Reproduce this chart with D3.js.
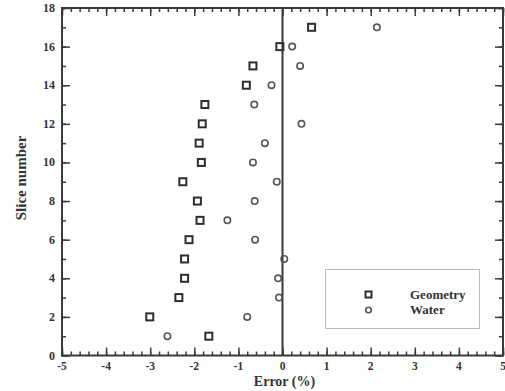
<!DOCTYPE html>
<html>
<head>
<meta charset="utf-8">
<script src="https://cdn.jsdelivr.net/npm/d3@7"></script>
<style>
  body { margin: 0; background: #fff; }
  svg text { font-family: "Liberation Serif", "DejaVu Serif", serif; font-weight: bold; fill: #333; }
</style>
</head>
<body>
<div id="chart"></div>
<script>
// slice numbers and errors (%)
var slices = [1, 2, 3, 4, 5, 6, 7, 8, 9, 10, 11, 12, 13, 14, 15, 16, 17];
var geometry = [-1.67, -3.01, -2.35, -2.22, -2.22, -2.12, -1.87, -1.93, -2.26, -1.84, -1.89, -1.82, -1.76, -0.82, -0.67, -0.06, 0.66];
var water = [-2.61, -0.80, -0.08, -0.10, 0.04, -0.62, -1.25, -0.63, -0.13, -0.67, -0.40, 0.43, -0.64, -0.25, 0.40, 0.22, 2.14];
var xTicks = [-5, -4, -3, -2, -1, 0, 1, 2, 3, 4, 5];
var yTicks = [0, 2, 4, 6, 8, 10, 12, 14, 16, 18];
var seriesNames = ["Geometry", "Water"];

var w = 505, h = 391;
var pLeft = 62, pRight = 503, pTop = 8, pBottom = 355.5;

var x = d3.scaleLinear().domain([-5, 5]).range([pLeft, pRight]);
var y = d3.scaleLinear().domain([0, 18]).range([pBottom, pTop]);

var svg = d3.select("#chart")
    .append("svg")
    .attr("width", w)
    .attr("height", h);

var ink = "#3a3a3a";

// minor ticks on all four sides, pointing inward
var xMinor = d3.range(-5, 5.001, 0.2);
var yMinor = d3.range(0, 18.001, 1);

svg.append("g").attr("transform", "translate(0," + pBottom + ")")
    .call(d3.axisTop(x).tickValues(xMinor).tickSize(4).tickFormat(""));
svg.append("g").attr("transform", "translate(0," + pTop + ")")
    .call(d3.axisBottom(x).tickValues(xMinor).tickSize(4).tickFormat(""));
svg.append("g").attr("transform", "translate(" + pLeft + ",0)")
    .call(d3.axisRight(y).tickValues(yMinor).tickSize(4).tickFormat(""));
svg.append("g").attr("transform", "translate(" + pRight + ",0)")
    .call(d3.axisLeft(y).tickValues(yMinor).tickSize(4).tickFormat(""));

// major ticks
svg.append("g").attr("transform", "translate(0," + pBottom + ")")
    .call(d3.axisTop(x).tickValues(xTicks).tickSize(8).tickFormat(""));
svg.append("g").attr("transform", "translate(0," + pTop + ")")
    .call(d3.axisBottom(x).tickValues(xTicks).tickSize(8).tickFormat(""));
svg.append("g").attr("transform", "translate(" + pLeft + ",0)")
    .call(d3.axisRight(y).tickValues(yTicks).tickSize(8).tickFormat(""));
svg.append("g").attr("transform", "translate(" + pRight + ",0)")
    .call(d3.axisLeft(y).tickValues(yTicks).tickSize(8).tickFormat(""));

svg.selectAll(".domain").remove();
svg.selectAll(".tick line").attr("stroke", ink).attr("stroke-width", 1.5);

// frame
svg.append("rect")
    .attr("x", pLeft).attr("y", pTop)
    .attr("width", pRight - pLeft).attr("height", pBottom - pTop)
    .attr("fill", "none").attr("stroke", ink).attr("stroke-width", 2);

// zero line
svg.append("line")
    .attr("x1", x(0)).attr("x2", x(0))
    .attr("y1", pTop).attr("y2", pBottom)
    .attr("stroke", ink).attr("stroke-width", 2);

// tick labels
svg.selectAll(".xlab")
    .data(xTicks)
    .enter()
    .append("text")
    .attr("x", function(d) { return x(d); })
    .attr("y", 370)
    .style("text-anchor", "middle")
    .style("font-size", "11.5px")
    .text(function(d) { return d; });

svg.selectAll(".ylab")
    .data(yTicks)
    .enter()
    .append("text")
    .attr("x", 55)
    .attr("y", function(d) { return y(d) + 4; })
    .style("text-anchor", "end")
    .style("font-size", "12px")
    .text(function(d) { return d; });

// axis titles
svg.append("text")
    .attr("x", x(0) + 2)
    .attr("y", 386)
    .style("text-anchor", "middle")
    .style("font-size", "14px")
    .text("Error (%)");

svg.append("text")
    .attr("transform", "translate(26,178) rotate(-90)")
    .style("text-anchor", "middle")
    .style("font-size", "15px")
    .text("Slice number");

// markers
var sq = 7;
svg.selectAll(".geo")
    .data(slices)
    .enter()
    .append("rect")
    .attr("class", "geo")
    .attr("x", function(d, i) { return x(geometry[i]) - sq / 2; })
    .attr("y", function(d) { return y(d) - sq / 2; })
    .attr("width", sq).attr("height", sq)
    .attr("fill", "none").attr("stroke", "#2e2e2e").attr("stroke-width", 2);

svg.selectAll(".wat")
    .data(slices)
    .enter()
    .append("circle")
    .attr("class", "wat")
    .attr("cx", function(d, i) { return x(water[i]); })
    .attr("cy", function(d) { return y(d); })
    .attr("r", 3.2)
    .attr("fill", "none").attr("stroke", "#555").attr("stroke-width", 1.6);

// legend
var lg = svg.append("g");
lg.append("rect")
    .attr("x", 325.5).attr("y", 269.5)
    .attr("width", 154).attr("height", 59)
    .attr("fill", "#fff").attr("stroke", "#bbb").attr("stroke-width", 1);
lg.append("rect")
    .attr("x", 368.5 - 3).attr("y", 294.5 - 3)
    .attr("width", 6).attr("height", 6)
    .attr("fill", "none").attr("stroke", "#2e2e2e").attr("stroke-width", 2);
lg.append("circle")
    .attr("cx", 368.5).attr("cy", 310)
    .attr("r", 2.8)
    .attr("fill", "none").attr("stroke", "#555").attr("stroke-width", 1.6);
lg.selectAll(".lt")
    .data(seriesNames)
    .enter()
    .append("text")
    .attr("x", 410)
    .attr("y", function(d, i) { return 298.5 + i * 15.5; })
    .style("font-size", "13px")
    .text(function(d) { return d; });
</script>
</body>
</html>
